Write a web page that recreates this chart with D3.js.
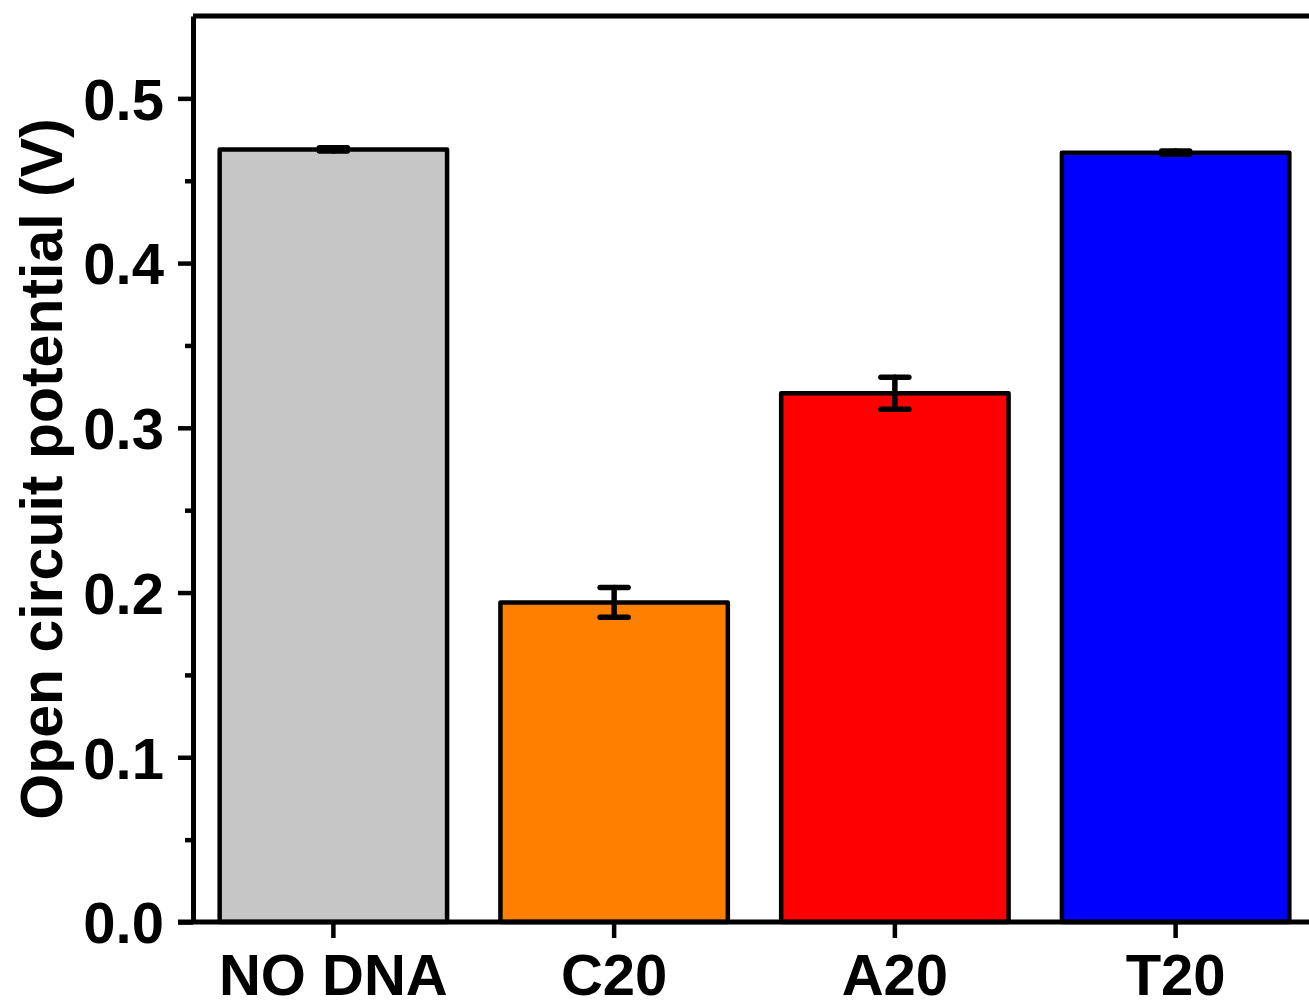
<html>

<head>
  <script src="https://d3js.org/d3.v7.min.js"></script>
  <style>
    body {
      margin: 0;
      background: #fff;
    }

    text {
      font-family: "Liberation Sans", Arial, sans-serif;
      font-weight: bold;
      fill: #000;
    }

    .axis .domain {
      stroke: #000;
      stroke-width: 5;
    }

    .axis line {
      stroke: #000;
      stroke-width: 4.5;
    }
  </style>
</head>

<body>
  <svg width="1309" height="1004" id="chart"></svg>
  <script>
    // data
    const categories = ["NO DNA", "C20", "A20", "T20"];
    const potentials = [0.469, 0.194, 0.321, 0.467];
    const errors = [0.001, 0.009, 0.0097, 0.001];
    const barColors = ["#c6c6c6", "#ff8000", "#ff0000", "#0000ff"];
    const yTicks = [0.0, 0.1, 0.2, 0.3, 0.4, 0.5];
    const yMinorTicks = [0.05, 0.15, 0.25, 0.35, 0.45];

    const svg = d3.select("svg#chart");

    // plot frame; the right edge sits just outside the picture
    const plot = { left: 193, top: 16, bottom: 922, right: 1316 };

    const xScale = d3.scaleBand()
      .domain(categories)
      .range([plot.left, plot.right])
      .paddingInner(0.19)
      .paddingOuter(0.095);

    const yScale = d3.scaleLinear().domain([0, 0.55]).range([plot.bottom, plot.top]);

    const data = categories.map((c, i) => ({
      name: c, value: potentials[i], err: errors[i], color: barColors[i]
    }));

    // bars
    svg.append("g").selectAll("rect.bar").data(data)
      .join("rect").attr("class", "bar")
      .attr("x", d => xScale(d.name))
      .attr("y", d => yScale(d.value))
      .attr("width", xScale.bandwidth())
      .attr("height", d => yScale(0) - yScale(d.value))
      .attr("fill", d => d.color)
      .attr("stroke", "#000")
      .attr("stroke-width", 4.5)
      .attr("stroke-linejoin", "round");

    // error bars
    const errG = svg.append("g").selectAll("g.err").data(data).join("g").attr("class", "err")
      .attr("stroke", "#000")
      .attr("stroke-width", 5.5)
      .attr("stroke-linecap", "round");
    const cx = d => xScale(d.name) + xScale.bandwidth() / 2;
    errG.append("line")
      .attr("x1", cx).attr("x2", cx)
      .attr("y1", d => yScale(d.value + d.err))
      .attr("y2", d => yScale(d.value - d.err));
    errG.append("line")
      .attr("x1", d => cx(d) - 14).attr("x2", d => cx(d) + 14)
      .attr("y1", d => yScale(d.value + d.err))
      .attr("y2", d => yScale(d.value + d.err));
    errG.append("line")
      .attr("x1", d => cx(d) - 14).attr("x2", d => cx(d) + 14)
      .attr("y1", d => yScale(d.value - d.err))
      .attr("y2", d => yScale(d.value - d.err));

    // top frame line
    svg.append("line")
      .attr("x1", plot.left).attr("x2", plot.right)
      .attr("y1", plot.top).attr("y2", plot.top)
      .attr("stroke", "#000").attr("stroke-width", 5);

    // y axis
    const leftAxis = d3.axisLeft(yScale)
      .tickValues(yTicks)
      .tickFormat(d3.format(".1f"))
      .tickSize(15)
      .tickSizeOuter(0)
      .tickPadding(14);
    const yAxisG = svg.append("g")
      .attr("class", "axis")
      .attr("transform", `translate(${plot.left},0)`)
      .call(leftAxis);
    yAxisG.selectAll("text").style("font-size", "58px").attr("dy", "0.36em");

    const minorAxis = d3.axisLeft(yScale)
      .tickValues(yMinorTicks)
      .tickFormat("")
      .tickSize(8)
      .tickSizeOuter(0);
    svg.append("g")
      .attr("class", "axis")
      .attr("transform", `translate(${plot.left},0)`)
      .call(minorAxis)
      .select(".domain").remove();

    // x axis
    const bottomAxis = d3.axisBottom(xScale)
      .tickSize(16)
      .tickSizeOuter(0)
      .tickPadding(16);
    const xAxisG = svg.append("g")
      .attr("class", "axis")
      .attr("transform", `translate(0,${plot.bottom})`)
      .call(bottomAxis);
    xAxisG.select(".domain").attr("d", `M${plot.left - 15},0H${plot.right}`);
    xAxisG.selectAll("text").style("font-size", "58px");

    // y title
    svg.append("text")
      .attr("transform", `translate(62,${(plot.top + plot.bottom) / 2}) rotate(-90)`)
      .attr("text-anchor", "middle")
      .style("font-size", "59px")
      .text("Open circuit potential (V)");
  </script>
</body>

</html>
